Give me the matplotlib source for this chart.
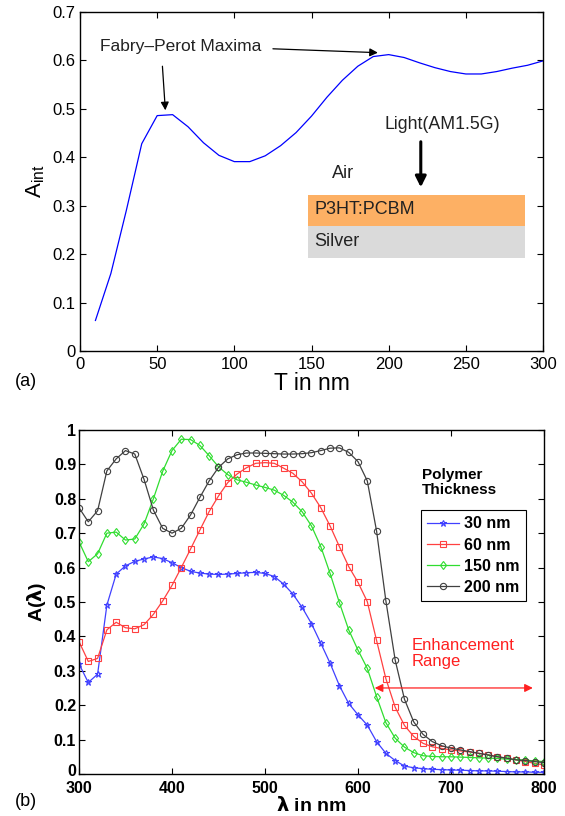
import matplotlib
matplotlib.use("Agg")
import matplotlib.pyplot as plt
from matplotlib.patches import Rectangle
from matplotlib.ticker import FuncFormatter
from matplotlib.transforms import ScaledTranslation

plt.rcParams['font.family'] = ['Liberation Sans', 'DejaVu Sans']

# (a) integrated absorption vs. polymer thickness
thickness = [10, 20, 30, 40, 50, 60, 70, 80, 90, 100, 110, 120, 130, 140, 150,
             160, 170, 180, 190, 200, 210, 220, 230, 240, 250, 260, 270, 280, 290, 300]
a_int = [0.063, 0.160, 0.290, 0.428, 0.486, 0.488, 0.463, 0.430, 0.404, 0.391,
         0.391, 0.403, 0.424, 0.451, 0.485, 0.524, 0.559, 0.588, 0.608, 0.612,
         0.606, 0.595, 0.585, 0.577, 0.572, 0.572, 0.577, 0.584, 0.590, 0.599]

# (b) spectral absorption for several polymer thicknesses
wavelength = list(range(300, 801, 10))
a_30 = [0.320, 0.266, 0.290, 0.491, 0.581, 0.605, 0.618, 0.625, 0.631, 0.626,
        0.614, 0.600, 0.589, 0.584, 0.581, 0.580, 0.581, 0.583, 0.585, 0.586,
        0.583, 0.574, 0.552, 0.523, 0.484, 0.437, 0.380, 0.322, 0.257, 0.205,
        0.172, 0.142, 0.094, 0.060, 0.039, 0.023, 0.018, 0.0155, 0.0136, 0.0126,
        0.0116, 0.011, 0.010, 0.009, 0.009, 0.008, 0.007, 0.006, 0.006, 0.005, 0.005]
a_60 = [0.385, 0.327, 0.336, 0.419, 0.441, 0.425, 0.422, 0.434, 0.464, 0.503,
        0.548, 0.600, 0.654, 0.709, 0.763, 0.808, 0.847, 0.872, 0.890, 0.903,
        0.905, 0.903, 0.889, 0.874, 0.849, 0.816, 0.774, 0.721, 0.661, 0.603,
        0.557, 0.501, 0.388, 0.277, 0.194, 0.141, 0.109, 0.089, 0.079, 0.074,
        0.070, 0.067, 0.064, 0.060, 0.056, 0.050, 0.046, 0.041, 0.036, 0.031, 0.026]
a_150 = [0.675, 0.617, 0.640, 0.700, 0.703, 0.680, 0.683, 0.727, 0.800, 0.880,
         0.940, 0.973, 0.972, 0.955, 0.925, 0.893, 0.870, 0.855, 0.848, 0.840,
         0.833, 0.825, 0.810, 0.790, 0.762, 0.721, 0.661, 0.583, 0.498, 0.419,
         0.360, 0.307, 0.225, 0.149, 0.104, 0.078, 0.062, 0.053, 0.051, 0.050,
         0.050, 0.049, 0.048, 0.047, 0.046, 0.045, 0.043, 0.042, 0.040, 0.038, 0.036]
a_200 = [0.774, 0.733, 0.765, 0.881, 0.916, 0.940, 0.930, 0.856, 0.767, 0.714,
         0.700, 0.714, 0.753, 0.804, 0.852, 0.891, 0.916, 0.928, 0.933, 0.933,
         0.932, 0.931, 0.930, 0.930, 0.931, 0.934, 0.940, 0.947, 0.948, 0.935,
         0.908, 0.852, 0.706, 0.503, 0.331, 0.217, 0.151, 0.115, 0.094, 0.082,
         0.075, 0.070, 0.065, 0.060, 0.055, 0.050, 0.046, 0.041, 0.039, 0.036, 0.033]
series_labels = ['30 nm', '60 nm', '150 nm', '200 nm']
series_colors = ['#4040ff', '#ff4040', '#30dd30', '#404040']
series_markers = ['*', 's', 'd', 'o']

fmt = FuncFormatter(lambda v, p: '%g' % round(v, 3))

fig = plt.figure(figsize=(5.65, 8.16), dpi=100)

# ---------------- panel (a) ----------------
ax1 = fig.add_axes([0.1416, 0.5699, 0.8195, 0.4154])
ax1.plot(thickness, a_int, color='#0000ff', lw=0.9)
ax1.set_xlim(0, 300)
ax1.set_ylim(0, 0.7)
ax1.set_xticks(range(0, 301, 50))
ax1.set_yticks([i / 10 for i in range(8)])
ax1.yaxis.set_major_formatter(fmt)
ax1.tick_params(direction='in', top=True, right=True, labelsize=12, length=4, pad=3)
ax1.tick_params(axis='x', pad=4)
for s in ax1.spines.values():
    s.set_linewidth(1.0)
ax1.set_xlabel('T in nm', fontsize=16.5, labelpad=0)
ax1.set_ylabel(r'A$_{\mathregular{int}}$', fontsize=16, labelpad=4)

txt_col = '#222222'
ax1.text(13, 0.628, 'Fabry\u2013Perot Maxima', fontsize=12.5, color=txt_col, va='center')
ax1.annotate('', xy=(55.3, 0.497), xytext=(53.4, 0.588),
             arrowprops=dict(arrowstyle='-|>', color='black', lw=0.9,
                             mutation_scale=12, shrinkA=0, shrinkB=0))
ax1.annotate('', xy=(193, 0.616), xytext=(125, 0.624),
             arrowprops=dict(arrowstyle='-|>', color='black', lw=0.9,
                             mutation_scale=12, shrinkA=0, shrinkB=0))

# device stack sketch
ax1.text(235, 0.467, 'Light(AM1.5G)', fontsize=12.8, color=txt_col, ha='center', va='center')
ax1.annotate('', xy=(220.8, 0.338), xytext=(220.8, 0.432),
             arrowprops=dict(arrowstyle='-|>', color='black', lw=2.2,
                             mutation_scale=16, shrinkA=0, shrinkB=0))
ax1.text(163, 0.367, 'Air', fontsize=13, color=txt_col, va='center')
ax1.add_patch(Rectangle((148, 0.258), 140.5, 0.064, facecolor='#fdb064', edgecolor='none'))
ax1.add_patch(Rectangle((148, 0.1915), 140.5, 0.0665, facecolor='#dadada', edgecolor='none'))
ax1.text(152, 0.292, 'P3HT:PCBM', fontsize=13, color=txt_col, va='center')
ax1.text(152, 0.227, 'Silver', fontsize=13, color=txt_col, va='center')

fig.text(0.026, 0.533, '(a)', fontsize=13, va='center')

# ---------------- panel (b) ----------------
ax2 = fig.add_axes([0.1398, 0.0515, 0.823, 0.4216])
for vals, lab, col, mk in zip([a_30, a_60, a_150, a_200], series_labels,
                              series_colors, series_markers):
    ax2.plot(wavelength, vals, color=col, lw=0.9, marker=mk, markersize=4.5,
             markerfacecolor='none', markeredgecolor=col, markeredgewidth=0.8, label=lab)
ax2.set_xlim(300, 800)
ax2.set_ylim(0, 1)
ax2.set_xticks(range(300, 801, 100))
ax2.set_yticks([i / 10 for i in range(11)])
ax2.yaxis.set_major_formatter(fmt)
ax2.tick_params(direction='in', top=True, right=True, labelsize=11.5, length=4, pad=2)
ax2.tick_params(axis='x', pad=5)
for lbl in ax2.get_xticklabels() + ax2.get_yticklabels():
    lbl.set_fontweight('bold')
for s in ax2.spines.values():
    s.set_linewidth(1.0)
# lift the "0" label a little so it clears the "300" below it
zero_lbl = ax2.yaxis.get_major_ticks()[0].label1
zero_lbl.set_transform(zero_lbl.get_transform() +
                       ScaledTranslation(0, 3 / 72, fig.dpi_scale_trans))
ax2.set_xlabel(r'$\mathbf{\lambda}$ in nm', fontsize=14, fontweight='bold', labelpad=0)
ax2.set_ylabel(r'A($\mathbf{\lambda}$)', fontsize=14, fontweight='bold', labelpad=4)

ax2.text(0.737, 0.89, 'Polymer\nThickness', transform=ax2.transAxes, fontsize=11,
         fontweight='bold', va='top', linespacing=1.1)
leg = ax2.legend(loc='upper left', bbox_to_anchor=(0.735, 0.767), borderaxespad=0,
                 fancybox=False, edgecolor='black', framealpha=1, handlelength=2.0,
                 handletextpad=0.3, borderpad=0.4, labelspacing=0.38,
                 prop={'size': 11.5, 'weight': 'bold'})
leg.get_frame().set_linewidth(0.8)

ax2.text(0.715, 0.395, 'Enhancement\nRange', transform=ax2.transAxes, fontsize=12,
         color='#ff2020', va='top', linespacing=1.1)
ax2.annotate('', xy=(618, 0.25), xytext=(788, 0.25),
             arrowprops=dict(arrowstyle='<|-|>', color='#ff2020', lw=0.9,
                             mutation_scale=12, shrinkA=0, shrinkB=0))

fig.text(0.026, 0.018, '(b)', fontsize=13, va='center')

fig.savefig('out.png', dpi=100)
